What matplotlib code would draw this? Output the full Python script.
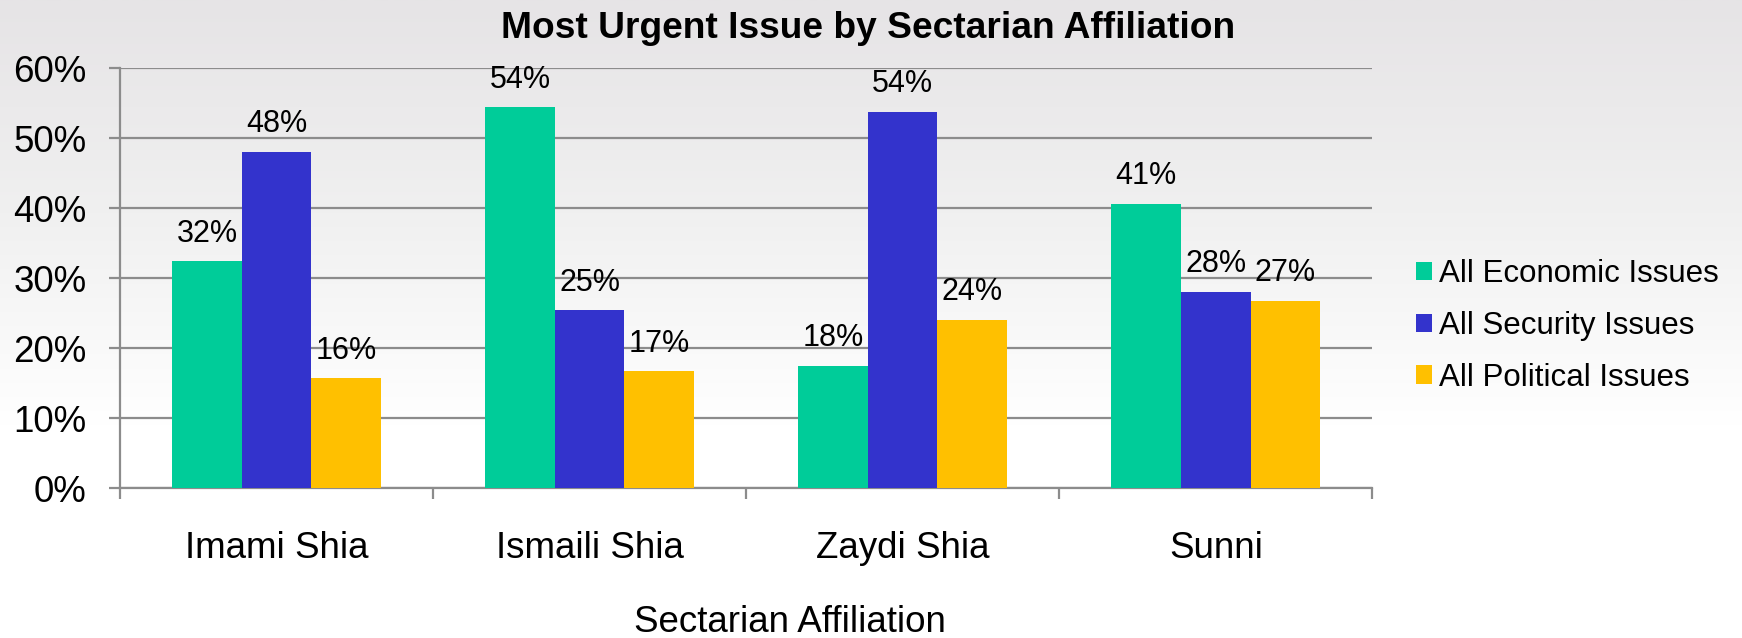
import numpy as np
import matplotlib
matplotlib.use('Agg')
import matplotlib.pyplot as plt
from matplotlib.colors import LinearSegmentedColormap

plt.rcParams['font.family'] = ['Liberation Sans', 'DejaVu Sans']

# data
groups = ['Imami Shia', 'Ismaili Shia', 'Zaydi Shia', 'Sunni']
series = ['All Economic Issues', 'All Security Issues', 'All Political Issues']
economic = [32.4, 54.4, 17.5, 40.6]
security = [48.1, 25.4, 53.8, 28.1]
political = [15.7, 16.7, 24.1, 26.8]
colors = ['#00CC99', '#3333CC', '#FFC000']
yticks = [0, 10, 20, 30, 40, 50, 60]

fig = plt.figure(figsize=(17.42, 6.38), dpi=100)

# soft grey-to-white backdrop
bg = fig.add_axes([0, 0, 1, 1], zorder=-10)
cmap = LinearSegmentedColormap.from_list('bg', ['#e6e4e6', '#f0f0f0', '#ffffff', '#ffffff'])
bg.imshow(np.linspace(0, 1, 256).reshape(-1, 1), aspect='auto', cmap=cmap,
          extent=[0, 1, 0, 1])
bg.axis('off')

ax = fig.add_axes([0.06889, 0.23464, 0.71888, 0.65831])
ax.patch.set_alpha(0)

x = np.arange(len(groups))
w = 2 / 9
for i, (vals, name) in enumerate(zip([economic, security, political], series)):
    bars = ax.bar(x + (i - 1) * w, vals, width=w, color=colors[i], label=name, zorder=3)
    for b, v in zip(bars, vals):
        ax.annotate(f"{v:.0f}%", (b.get_x() + b.get_width() / 2, v),
                    xytext=(0, 20), textcoords='offset points',
                    ha='center', va='center', fontsize=22, zorder=4)

ax.set_ylim(0, 60)
ax.set_xlim(-0.5, len(groups) - 0.5)
ax.set_yticks(yticks)
ax.set_yticklabels([f"{t}%" for t in yticks], fontsize=26.5)
ax.yaxis.grid(True, color='#8c8c8c', linewidth=1.6, zorder=1)
ax.tick_params(axis='y', length=8, width=1.6, color='#8c8c8c', pad=16)

ax.set_xticks(x)
ax.set_xticklabels(groups, fontsize=26.5)
ax.set_xticks(np.arange(-0.5, len(groups)), minor=True)
ax.tick_params(axis='x', which='major', length=0, pad=31)
ax.tick_params(axis='x', which='minor', length=8, width=1.6, color='#8c8c8c')

for s in ['top', 'right']:
    ax.spines[s].set_visible(False)
for s in ['left', 'bottom']:
    ax.spines[s].set_color('#8c8c8c')
    ax.spines[s].set_linewidth(1.6)

ax.set_xlabel('Sectarian Affiliation', fontsize=26.5)
ax.xaxis.set_label_coords(0.535, -0.279)

fig.text(0.4986, 0.955, 'Most Urgent Issue by Sectarian Affiliation',
         ha='center', va='center', fontsize=26.7, fontweight='bold')

fig.legend(loc='center left', bbox_to_anchor=(0.8129, 0.489), frameon=False,
           fontsize=22.5, handlelength=0.51, handleheight=0.51, handletextpad=0.23,
           labelspacing=0.69, borderpad=0, borderaxespad=0)

fig.savefig('out.png', dpi=100)
